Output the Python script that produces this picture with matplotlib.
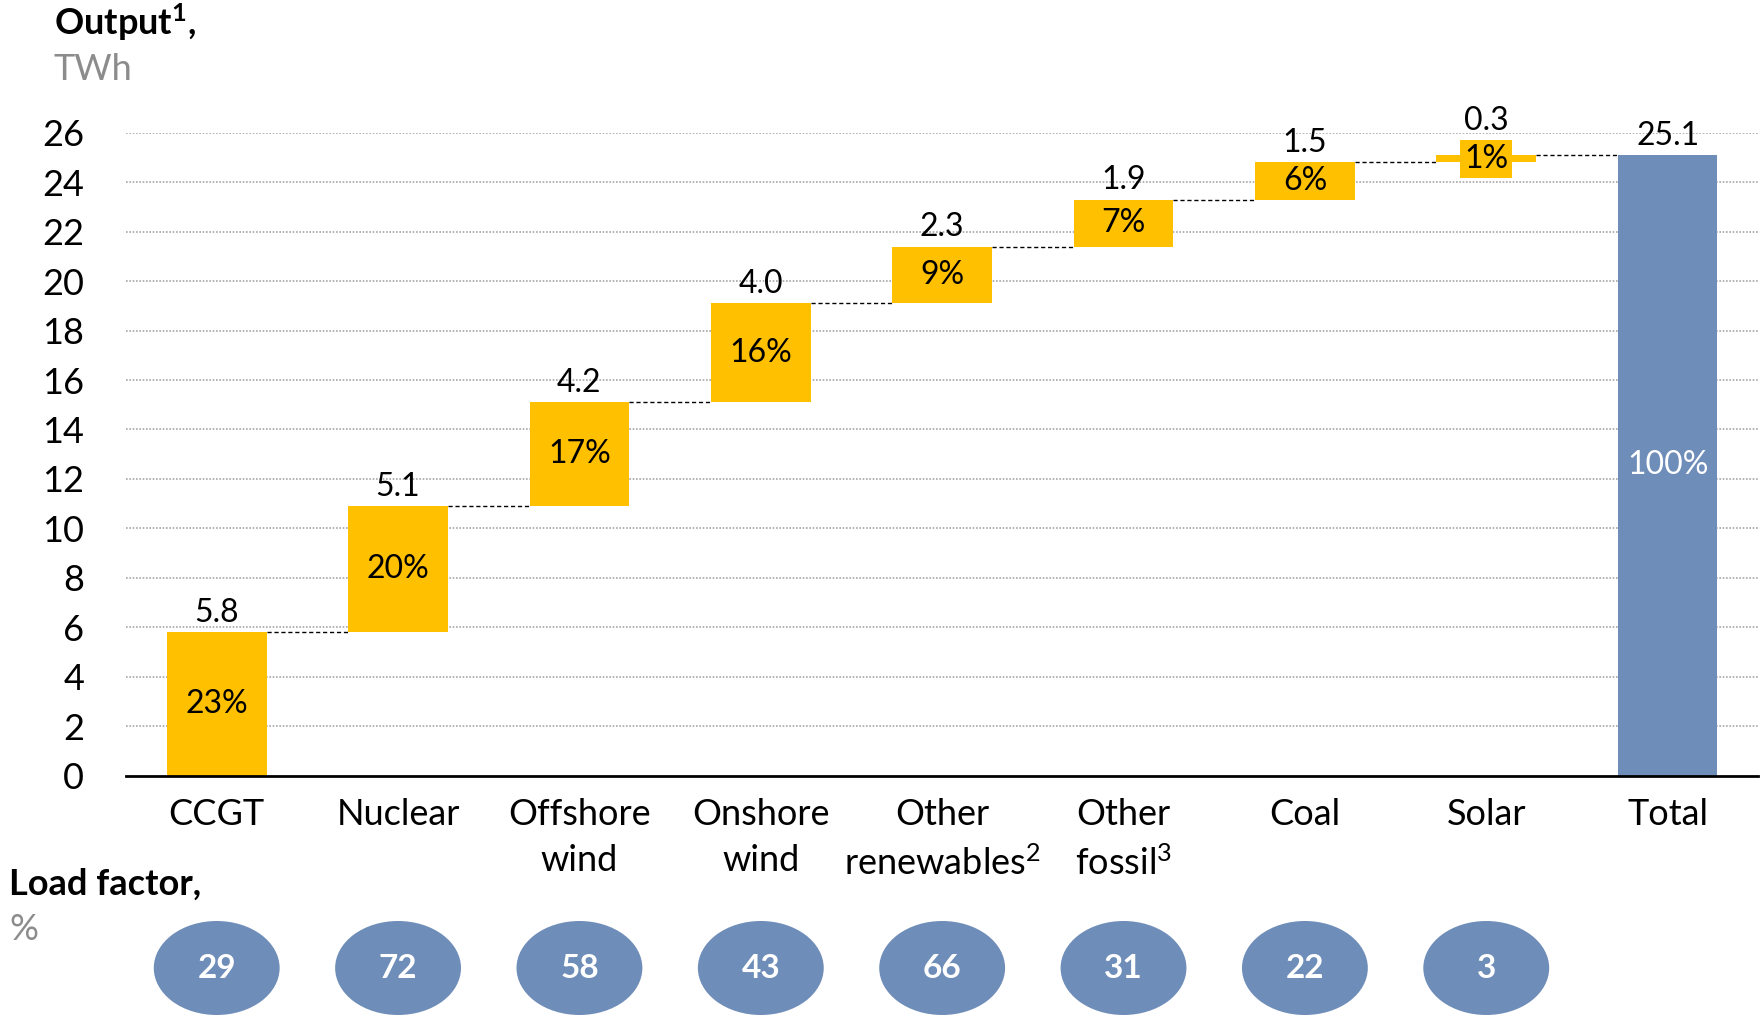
import matplotlib
matplotlib.use("Agg")
import matplotlib.pyplot as plt
from matplotlib.patches import Ellipse

plt.rcParams['font.family'] = ['Lato', 'DejaVu Sans']
plt.rcParams['mathtext.fontset'] = 'custom'
plt.rcParams['mathtext.rm'] = 'Lato'
plt.rcParams['mathtext.it'] = 'Lato:italic'
plt.rcParams['mathtext.bf'] = 'Lato:bold'

categories = ["CCGT", "Nuclear", "Offshore\nwind", "Onshore\nwind", "Other\nrenewables$^2$",
              "Other\nfossil$^3$", "Coal", "Solar", "Total"]
values = [5.8, 5.1, 4.2, 4.0, 2.3, 1.9, 1.5, 0.3]
total = 25.1
shares = ["23%", "20%", "17%", "16%", "9%", "7%", "6%", "1%"]
total_share = "100%"
load_factors = [29, 72, 58, 43, 66, 31, 22, 3]
yticks = list(range(0, 27, 2))

YELLOW = "#FFC000"
BLUE = "#6E8DB9"
GREY = "#8C8C8C"

fig = plt.figure(figsize=(17.65, 10.17), dpi=100)
ax = fig.add_axes([0.0714, 0.2374, 0.9248, 0.632])

n = len(categories)
width = 0.55
bottoms = []
cum = 0.0
for v in values:
    bottoms.append(cum)
    cum += v

for i, (v, b) in enumerate(zip(values, bottoms)):
    ax.bar(i, v, bottom=b, width=width, color=YELLOW, zorder=3)
    off = 14 if v < 1 else 3
    ax.annotate(f"{v:.1f}", (i, b + v), xytext=(0, off), textcoords="offset points",
                ha="center", va="bottom", fontsize=23, color="black", zorder=5)
    if v < 1:
        ax.text(i, b + v / 2, shares[i], ha="center", va="center", fontsize=23, zorder=5,
                bbox=dict(facecolor=YELLOW, edgecolor="none", boxstyle="square,pad=0.12"))
    else:
        ax.text(i, b + v / 2, shares[i], ha="center", va="center", fontsize=23, zorder=5)

ax.bar(n - 1, total, width=width, color=BLUE, zorder=3)
ax.annotate(f"{total:.1f}", (n - 1, total), xytext=(0, 3), textcoords="offset points",
            ha="center", va="bottom", fontsize=23, zorder=5)
ax.text(n - 1, total / 2, total_share, ha="center", va="center", fontsize=23, color="white", zorder=5)

# connectors
tops = [b + v for b, v in zip(bottoms, values)]
for i, t in enumerate(tops):
    ax.plot([i + width / 2, i + 1 - width / 2], [t, t], color="black", lw=1.0,
            ls=(0, (3, 2)), zorder=2)

ax.set_xlim(-0.5, n - 0.5)
ax.set_ylim(0, 26)
ax.set_yticks(yticks)
ax.set_xticks(range(n))
ax.set_xticklabels(categories, fontsize=26, linespacing=1.5)
ax.tick_params(axis="y", length=0, pad=30, labelsize=26)
ax.tick_params(axis="x", length=0, pad=16)
for yv in yticks[1:]:
    ax.axhline(yv, color="#A6A6A6", lw=1.2, ls=(0, (1, 1)), zorder=1)
for s in ["top", "right", "left"]:
    ax.spines[s].set_visible(False)
ax.spines["bottom"].set_linewidth(2)
ax.spines["bottom"].set_zorder(4)

# headings
fig.text(54 / 1765, 1 - 22 / 1017, r"Output$^{\mathbf{1}}$,", fontsize=26, fontweight="bold",
         ha="left", va="center")
fig.text(54 / 1765, 1 - 69 / 1017, "TWh", fontsize=26, color=GREY, ha="left", va="center")
fig.text(9 / 1765, 1 - 884 / 1017, "Load factor,", fontsize=26, fontweight="bold", ha="left", va="center")
fig.text(9 / 1765, 1 - 930 / 1017, "%", fontsize=26, color=GREY, ha="left", va="center")

# load factor ellipses
ax2 = fig.add_axes([0.0714, 0.0, 0.9248, 117 / 1017])
ax2.set_xlim(-0.5, n - 0.5)
ax2.set_ylim(0, 117)
ax2.axis("off")
for i, lf in enumerate(load_factors):
    ax2.add_patch(Ellipse((i, 49), 0.694, 94, facecolor=BLUE, edgecolor="none"))
    ax2.text(i, 49, str(lf), ha="center", va="center", fontsize=24, fontweight="bold", color="white")

fig.savefig("out.png", dpi=100)
